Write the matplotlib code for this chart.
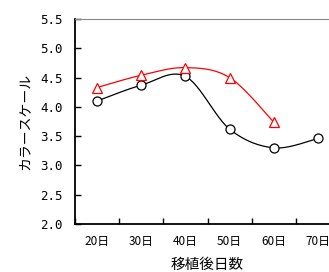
import numpy as np
import matplotlib
matplotlib.use("Agg")
import matplotlib.pyplot as plt

categories = ["20日", "30日", "40日", "50日", "60日", "70日"]
black_vals = [4.10, 4.37, 4.52, 3.62, 3.30, 3.46]
red_vals = [4.33, 4.54, 4.67, 4.50, 3.74]
yticks = [2.0, 2.5, 3.0, 3.5, 4.0, 4.5, 5.0, 5.5]


def excel_smooth(x, y, n=40):
    x = np.asarray(x, float)
    y = np.asarray(y, float)
    P = np.column_stack([x, y])
    out = [P[0]]
    m = len(P)
    for i in range(m - 1):
        p0 = P[i - 1] if i > 0 else P[i]
        p1 = P[i]
        p2 = P[i + 1]
        p3 = P[i + 2] if i + 2 < m else P[i + 1]
        c1 = p1 + (p2 - p0) / 6.0
        c2 = p2 - (p3 - p1) / 6.0
        t = np.linspace(0, 1, n)[1:, None]
        seg = ((1 - t) ** 3) * p1 + 3 * ((1 - t) ** 2) * t * c1 + 3 * (1 - t) * t ** 2 * c2 + t ** 3 * p2
        out.extend(seg)
    out = np.array(out)
    return out[:, 0], out[:, 1]


fig = plt.figure(figsize=(3.29, 2.72), dpi=100)
ax = fig.add_axes([75 / 329, 48 / 272, 265 / 329, 205 / 272])

xb = np.arange(len(black_vals))
xr = np.arange(len(red_vals))

sx, sy = excel_smooth(xb, black_vals)
ax.plot(sx, sy, color="black", lw=0.9, zorder=2)
ax.plot(xb, black_vals, ls="none", marker="o", ms=6.5, mfc="white", mec="black", mew=0.9, zorder=3)

sx, sy = excel_smooth(xr, red_vals)
ax.plot(sx, sy, color="red", lw=0.9, zorder=2)
ax.plot(xr, red_vals, ls="none", marker="^", ms=7.5, mfc="white", mec="red", mew=0.9, zorder=3)

ax.set_xlim(-0.5, len(categories) - 0.5)
ax.set_ylim(2.0, 5.5)

ax.set_xticks(np.arange(len(categories)))
ax.set_xticklabels(categories, family=["Noto Sans CJK JP", "DejaVu Sans"], fontsize=8.5)
ax.set_xticks(np.arange(len(categories) + 1) - 0.5, minor=True)
ax.tick_params(axis="x", which="major", length=0, pad=8)
ax.tick_params(axis="x", which="minor", direction="in", length=4, width=1)

ax.set_yticks(yticks)
ax.set_yticklabels([f"{v:.1f}" for v in yticks], family="DejaVu Sans Mono", fontsize=9)
ax.tick_params(axis="y", direction="in", length=4, width=1, pad=9)

for s in ["left", "bottom"]:
    ax.spines[s].set_linewidth(1.3)
    ax.spines[s].set_color("black")
ax.spines["top"].set_color("#888888")
ax.spines["top"].set_linewidth(0.8)
ax.spines["right"].set_visible(False)

ax.set_xlabel("移植後日数", family=["Noto Sans CJK JP", "DejaVu Sans"], fontsize=10.5, labelpad=7)
ax.set_ylabel("カラースケール", family=["Noto Sans CJK JP", "DejaVu Sans"], fontsize=10, labelpad=6)

fig.savefig("out.png", dpi=100)
